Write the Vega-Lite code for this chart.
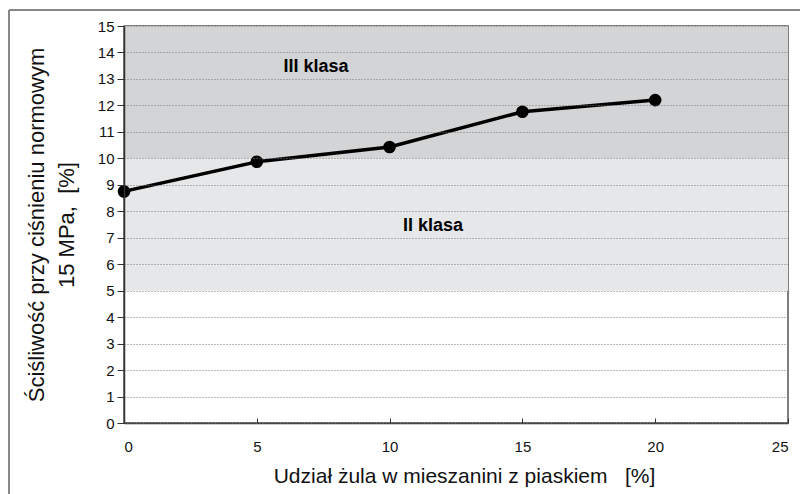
{
  "$schema": "https://vega.github.io/schema/vega-lite/v6.json",
  "width": 664,
  "height": 397,
  "autosize": "none",
  "padding": {"left": 124, "top": 26, "right": 12, "bottom": 71},
  "background": "white",
  "config": {
    "font": "Liberation Sans",
    "view": {"stroke": "#555555", "strokeWidth": 1.5},
    "style": {"guide-label": {"fontSize": 15, "font": "Liberation Sans"}},
    "axis": {"labelFont": "Liberation Sans", "titleFont": "Liberation Sans", "labelColor": "#111111", "titleColor": "#111111", "labelFontSize": 15}
  },
  "datasets": {
    "bands": [
      {"udzial": 0, "udzial2": 25, "scisliwosc": 10, "scisliwosc2": 15, "band": "III"},
      {"udzial": 0, "udzial2": 25, "scisliwosc": 5, "scisliwosc2": 10, "band": "II"}
    ],
    "series": [
      {"udzial": 0, "scisliwosc": 8.75},
      {"udzial": 5, "scisliwosc": 9.87},
      {"udzial": 10, "scisliwosc": 10.43},
      {"udzial": 15, "scisliwosc": 11.76},
      {"udzial": 20, "scisliwosc": 12.2}
    ],
    "labels": [
      {"udzial": 7.23, "scisliwosc": 13.45, "text": "III klasa"},
      {"udzial": 11.63, "scisliwosc": 7.44, "text": "II klasa"}
    ],
    "frame": [
      {"udzial": -4.33, "udzial2": -4.33, "scisliwosc": 15.6, "scisliwosc2": -3.0},
      {"udzial": -4.33, "udzial2": 26.0, "scisliwosc": 15.6, "scisliwosc2": 15.6}
    ]
  },
  "encoding": {
    "x": {
      "field": "udzial", "type": "quantitative",
      "scale": {"domain": [0, 25], "nice": false, "zero": false},
      "axis": {
        "values": [0, 5, 10, 15, 20, 25],
        "grid": false,
        "tickSize": -5,
        "tickColor": "#333333",
        "domainColor": "#333333",
        "domainWidth": 1.5,
        "labelFontSize": 15,
        "labelPadding": 21,
        "title": "Udział żula w mieszanini z piaskiem\u00a0\u00a0\u00a0[%]",
        "titleFontSize": 21,
        "titleFontWeight": "normal",
        "titlePadding": 11,
        "titleX": 340,
        "encode": {"labels": {"update": {"fontSize": {"value": 15}}}}
      }
    },
    "y": {
      "field": "scisliwosc", "type": "quantitative",
      "scale": {"domain": [0, 15], "nice": false, "zero": false},
      "axis": {
        "values": [0, 1, 2, 3, 4, 5, 6, 7, 8, 9, 10, 11, 12, 13, 14, 15],
        "labelOverlap": false,
        "grid": true,
        "zindex": 1,
        "gridDash": [1, 2],
        "gridColor": "#777777",
        "gridWidth": 1,
        "tickSize": 7,
        "tickColor": "#333333",
        "domainColor": "#333333",
        "domainWidth": 1.5,
        "labelFontSize": 15,
        "labelPadding": 3,
        "title": ["Ściśliwość przy ciśnieniu normowym", "15 MPa,\u00a0\u00a0[%]"],
        "titleFontSize": 22,
        "titleFontWeight": "normal",
        "titleLineHeight": 30,
        "titlePadding": 19,
        "encode": {"labels": {"update": {"fontSize": {"value": 15}}}}
      }
    }
  },
  "layer": [
    {
      "data": {"name": "bands"},
      "mark": {"type": "rect"},
      "encoding": {
        "x2": {"field": "udzial2"},
        "y2": {"field": "scisliwosc2"},
        "color": {"field": "band", "type": "nominal", "scale": {"domain": ["III", "II"], "range": ["#d3d4d6", "#e6e7e9"]}, "legend": null}
      }
    },
    {
      "data": {"name": "series"},
      "mark": {"type": "line", "color": "#000000", "strokeWidth": 3.5},
      "encoding": {}
    },
    {
      "data": {"name": "series"},
      "mark": {"type": "point", "filled": true, "color": "#000000", "size": 160, "opacity": 1},
      "encoding": {}
    },
    {
      "data": {"name": "labels"},
      "mark": {"type": "text", "fontSize": 18, "fontWeight": "bold", "color": "#000000", "align": "center", "baseline": "middle"},
      "encoding": {
        "text": {"field": "text"}
      }
    },
    {
      "data": {"name": "frame"},
      "mark": {"type": "rule", "color": "#888888", "strokeWidth": 2, "clip": false},
      "encoding": {
        "x2": {"field": "udzial2"},
        "y2": {"field": "scisliwosc2"}
      }
    }
  ]
}
